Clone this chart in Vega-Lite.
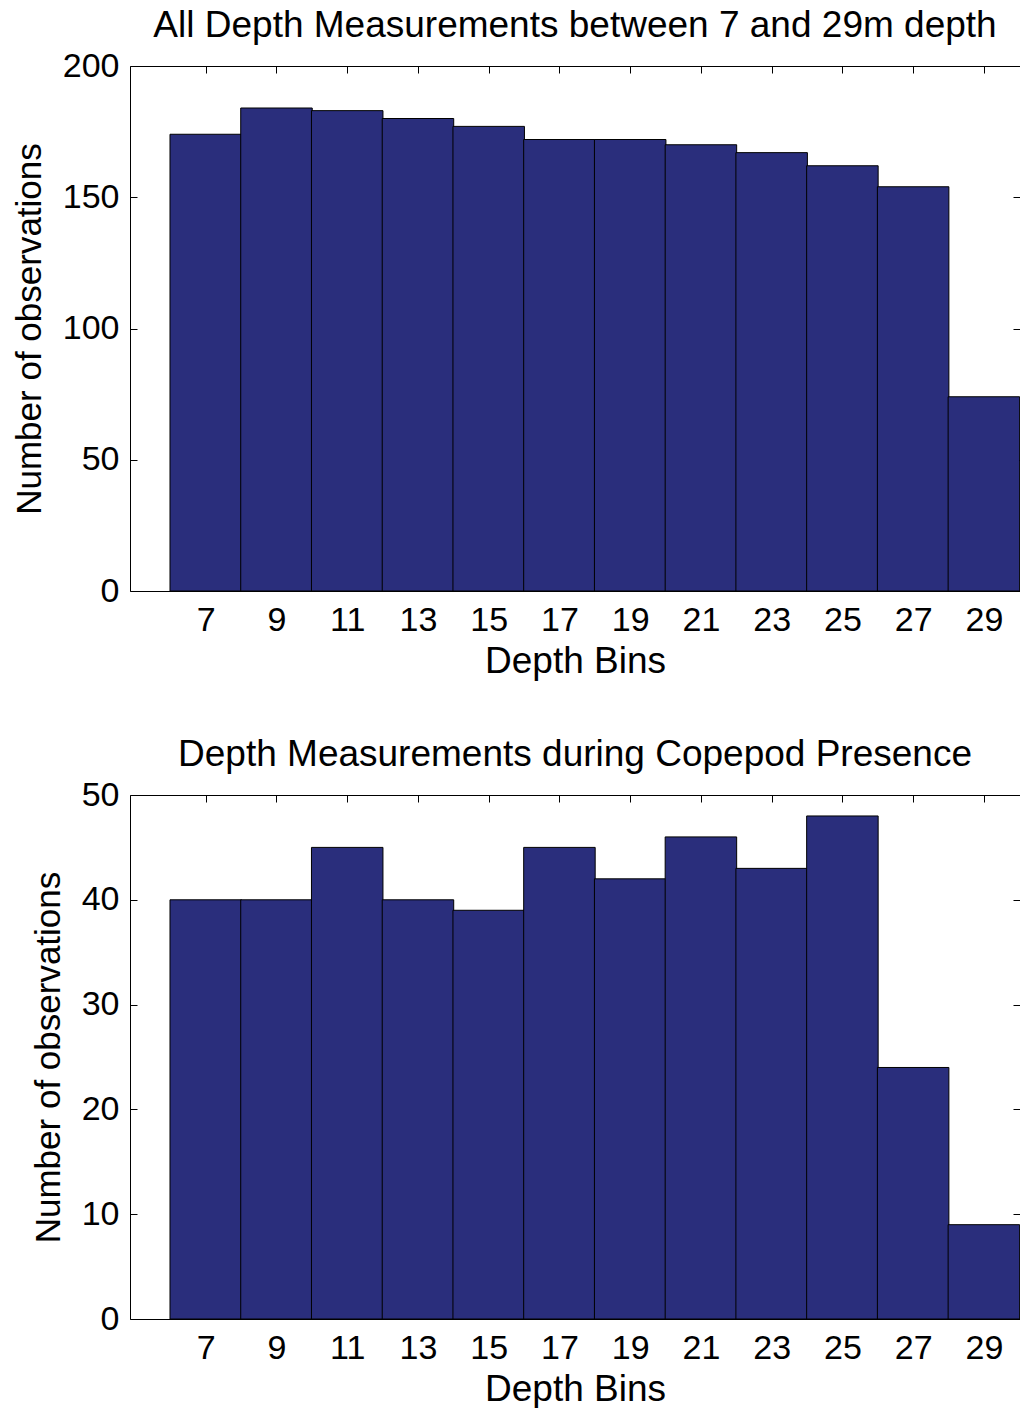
{
  "$schema": "https://vega.github.io/schema/vega-lite/v6.json",
  "padding": {"left": 11, "top": 6, "right": 0, "bottom": 0},
  "bounds": "flush",
  "spacing": 204,
  "config": {
    "font": "Liberation Sans",
    "view": {"stroke": "#000000", "strokeWidth": 1},
    "axis": {
      "domain": false,
      "grid": false,
      "tickSize": -7,
      "tickColor": "#000000",
      "tickWidth": 1,
      "labelFont": "Liberation Sans",
      "labelFontSize": 34,
      "labelColor": "#000000",
      "titleFont": "Liberation Sans",
      "titleFontSize": 35,
      "titleFontWeight": "normal",
      "titleColor": "#000000"
    },
    "title": {"font": "Liberation Sans", "fontSize": 37, "fontWeight": "normal", "color": "#000000", "anchor": "middle", "offset": 4}
  },
  "vconcat": [
    {
      "title": "All Depth Measurements between 7 and 29m depth",
      "width": 890,
      "height": 525,
      "data": {"values": [
        {"depth": 7, "count": 174},
        {"depth": 9, "count": 184},
        {"depth": 11, "count": 183},
        {"depth": 13, "count": 180},
        {"depth": 15, "count": 177},
        {"depth": 17, "count": 172},
        {"depth": 19, "count": 172},
        {"depth": 21, "count": 170},
        {"depth": 23, "count": 167},
        {"depth": 25, "count": 162},
        {"depth": 27, "count": 154},
        {"depth": 29, "count": 74}
      ]},
      "layer": [
        {
          "mark": {"type": "bar", "width": 71.5, "fill": "#2a2e7c", "stroke": "#000000", "strokeWidth": 1, "clip": true},
          "encoding": {
            "x": {"field": "depth", "type": "quantitative", "scale": {"domain": [5, 29.88], "nice": false, "zero": false},
              "axis": {"orient": "bottom", "values": [7, 9, 11, 13, 15, 17, 19, 21, 23, 25, 27, 29], "title": "Depth Bins", "titleFontSize": 37, "labelPadding": 19, "titlePadding": 6}},
            "y": {"field": "count", "type": "quantitative", "scale": {"domain": [0, 200], "nice": false},
              "axis": {"orient": "left", "values": [0, 50, 100, 150, 200], "title": "Number of observations", "labelPadding": 18, "titlePadding": 15}}
          }
        },
        {
          "mark": {"type": "bar", "width": 71.5, "opacity": 0, "clip": true},
          "encoding": {
            "x": {"field": "depth", "type": "quantitative", "scale": {"domain": [5, 29.88], "nice": false, "zero": false},
              "axis": {"orient": "top", "values": [7, 9, 11, 13, 15, 17, 19, 21, 23, 25, 27, 29], "labels": false, "title": null}},
            "y": {"field": "count", "type": "quantitative", "scale": {"domain": [0, 200], "nice": false},
              "axis": {"orient": "right", "values": [0, 50, 100, 150, 200], "labels": false, "title": null}}
          }
        }
      ],
      "resolve": {"axis": {"x": "independent", "y": "independent"}}
    },
    {
      "title": "Depth Measurements during Copepod Presence",
      "width": 890,
      "height": 524,
      "data": {"values": [
        {"depth": 7, "count": 40},
        {"depth": 9, "count": 40},
        {"depth": 11, "count": 45},
        {"depth": 13, "count": 40},
        {"depth": 15, "count": 39},
        {"depth": 17, "count": 45},
        {"depth": 19, "count": 42},
        {"depth": 21, "count": 46},
        {"depth": 23, "count": 43},
        {"depth": 25, "count": 48},
        {"depth": 27, "count": 24},
        {"depth": 29, "count": 9}
      ]},
      "layer": [
        {
          "mark": {"type": "bar", "width": 71.5, "fill": "#2a2e7c", "stroke": "#000000", "strokeWidth": 1, "clip": true},
          "encoding": {
            "x": {"field": "depth", "type": "quantitative", "scale": {"domain": [5, 29.88], "nice": false, "zero": false},
              "axis": {"orient": "bottom", "values": [7, 9, 11, 13, 15, 17, 19, 21, 23, 25, 27, 29], "title": "Depth Bins", "titleFontSize": 37, "labelPadding": 19, "titlePadding": 6}},
            "y": {"field": "count", "type": "quantitative", "scale": {"domain": [0, 50], "nice": false},
              "axis": {"orient": "left", "values": [0, 10, 20, 30, 40, 50], "title": "Number of observations", "labelPadding": 18, "titlePadding": 15}}
          }
        },
        {
          "mark": {"type": "bar", "width": 71.5, "opacity": 0, "clip": true},
          "encoding": {
            "x": {"field": "depth", "type": "quantitative", "scale": {"domain": [5, 29.88], "nice": false, "zero": false},
              "axis": {"orient": "top", "values": [7, 9, 11, 13, 15, 17, 19, 21, 23, 25, 27, 29], "labels": false, "title": null}},
            "y": {"field": "count", "type": "quantitative", "scale": {"domain": [0, 50], "nice": false},
              "axis": {"orient": "right", "values": [0, 10, 20, 30, 40, 50], "labels": false, "title": null}}
          }
        }
      ],
      "resolve": {"axis": {"x": "independent", "y": "independent"}}
    }
  ]
}
